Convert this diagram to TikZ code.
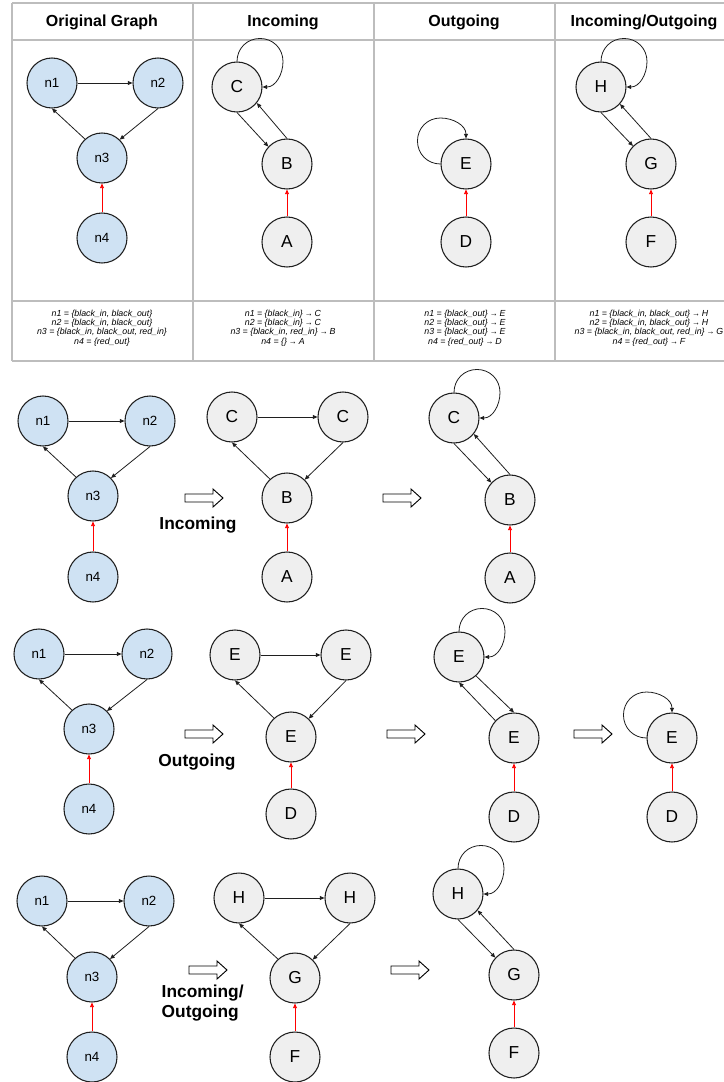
\documentclass[tikz,border=0pt]{standalone}
\usepackage{fontspec}
\setmainfont{Liberation Sans}
\usetikzlibrary{arrows.meta}
\definecolor{nblue}{HTML}{CFE2F3}
\definecolor{ngray}{HTML}{EFEFEF}
\definecolor{tlinec}{HTML}{BDBDBD}
\definecolor{nborder}{HTML}{1F1F1F}
\newcommand\tarr{\hspace{0.22em}\scalebox{0.9}[1]{→}\hspace{0.22em}}
\begin{document}
\begin{tikzpicture}[x=0.75pt,y=-0.75pt,
 bnode/.style={circle,draw=nborder,line width=0.8pt,fill=nblue,minimum size=37.5pt,inner sep=0pt,font=\fontsize{10}{12}\selectfont},
 gnode/.style={circle,draw=nborder,line width=0.8pt,fill=ngray,minimum size=37.5pt,inner sep=0pt,font=\fontsize{13}{15}\selectfont},
 arr/.style={draw=nborder,line width=0.6pt,-{Triangle[length=3.5pt,width=3pt]}},
 rarr/.style={draw=red,line width=0.7pt,-{Triangle[length=3.5pt,width=3pt]}},
 tbl/.style={draw=tlinec,line width=1.1pt},
 head/.style={font=\fontsize{12}{14}\selectfont\bfseries},
 info/.style={font=\fontsize{6.6}{6.9}\selectfont\itshape,align=center},
 oplabel/.style={font=\fontsize{13}{15.5}\selectfont\bfseries,align=left},
 harrow/.pic={\draw[line width=0.7pt,fill=white] (0,-4) -- (28,-4) -- (28,-9) -- (38,0) -- (28,9) -- (28,4) -- (0,4) -- cycle;}
]
\useasboundingbox (0,0) rectangle (724,1082);
% loop from top anchor to right anchor (clockwise, round)
\def\looptr#1{\draw[arr] (#1.90) .. controls +(0,-13) and +(-13,0) .. ++(23,-23) .. controls +(13,0) and +(0,-13) .. ++(23,23) .. controls +(0,13) and +(13,0) .. (#1.0);}
% loop from left anchor to top anchor
\def\looplt#1{\draw[arr] (#1.180) .. controls +(-13,0) and +(0,13) .. ++(-23,-23) .. controls +(0,-13) and +(-13,0) .. ++(23,-23) .. controls +(13,0) and +(0,-13) .. (#1.90);}

% ---------- table ----------
\foreach \yy in {3,40,301,361} \draw[tbl] (12,\yy) -- (724,\yy);
\foreach \xx in {12,193,374,555} \draw[tbl] (\xx,3) -- (\xx,361);

\node[head] (h1) at (102,22) {Original Graph};
\node[head] (h2) at (283,22) {Incoming};
\node[head] (h3) at (464,22) {Outgoing};
\node[head] (h4) at (644,22) {Incoming/Outgoing};

\node[info] (i1) at (102,328) {n1 = \{black\_in, black\_out\}\\n2 = \{black\_in, black\_out\}\\n3 = \{black\_in, black\_out, red\_in\}\\n4 = \{red\_out\}};
\node[info] (i2) at (283,328) {n1 = \{black\_in\}\tarr C\\n2 = \{black\_in\}\tarr C\\n3 = \{black\_in, red\_in\}\tarr B\\n4 = \{\}\tarr A};
\node[info] (i3) at (465,328) {n1 = \{black\_out\}\tarr E\\n2 = \{black\_out\}\tarr E\\n3 = \{black\_out\}\tarr E\\n4 = \{red\_out\}\tarr D};
\node[info] (i4) at (649,328) {n1 = \{black\_in, black\_out\}\tarr H\\n2 = \{black\_in, black\_out\}\tarr H\\n3 = \{black\_in, black\_out, red\_in\}\tarr G\\n4 = \{red\_out\}\tarr F};

% original graph in table
\node[bnode] (ta1) at (52,83) {n1};
\node[bnode] (ta2) at (158,83) {n2};
\node[bnode] (ta3) at (102,158) {n3};
\node[bnode] (ta4) at (102,238) {n4};
\draw[arr] (ta1) -- (ta2);
\draw[arr] (ta2.-90) -- (ta3.46);
\draw[arr] (ta3.132) -- (ta1.-90);
\draw[rarr] (ta4) -- (ta3);

% incoming in table
\node[gnode] (tbC) at (237,87) {C};
\node[gnode] (tbB) at (287,164) {B};
\node[gnode] (tbA) at (287,242) {A};
\draw[arr] (tbC.-90) -- (tbB.137);
\draw[arr] (tbB.90) -- (tbC.-39);
\looptr{tbC}
\draw[rarr] (tbA) -- (tbB);

% outgoing in table
\node[gnode] (tcE) at (466,164) {E};
\node[gnode] (tcD) at (466,242) {D};
\looplt{tcE}
\draw[rarr] (tcD) -- (tcE);

% incoming/outgoing in table
\node[gnode] (tdH) at (601,87) {H};
\node[gnode] (tdG) at (651,164) {G};
\node[gnode] (tdF) at (651,242) {F};
\draw[arr] (tdH.-90) -- (tdG.135);
\draw[arr] (tdG.90) -- (tdH.-42);
\looptr{tdH}
\draw[rarr] (tdF) -- (tdG);

% ---------- section 1: incoming ----------
\node[bnode] (pa1) at (43,421) {n1};
\node[bnode] (pa2) at (150,421) {n2};
\node[bnode] (pa3) at (93,496) {n3};
\node[bnode] (pa4) at (93,577) {n4};
\draw[arr] (pa1) -- (pa2);
\draw[arr] (pa2.-90) -- (pa3.45);
\draw[arr] (pa3.132) -- (pa1.-90);
\draw[rarr] (pa4) -- (pa3);

\pic at (185,498) {harrow};
\node[oplabel] (pl) at (198,525) {Incoming};

\node[gnode] (pb1) at (232,417) {C};
\node[gnode] (pb2) at (343,417) {C};
\node[gnode] (pb3) at (287,498) {B};
\node[gnode] (pb4) at (287,577) {A};
\draw[arr] (pb1) -- (pb2);
\draw[arr] (pb2.-90) -- (pb3.46);
\draw[arr] (pb3.132) -- (pb1.-90);
\draw[rarr] (pb4) -- (pb3);

\pic at (383,498) {harrow};

\node[gnode] (pcC) at (454,418) {C};
\node[gnode] (pcB) at (510,500) {B};
\node[gnode] (pcA) at (510,578) {A};
\draw[arr] (pcC.-90) -- (pcB.137);
\draw[arr] (pcB.90) -- (pcC.-39);
\looptr{pcC}
\draw[rarr] (pcA) -- (pcB);

% ---------- section 2: outgoing ----------
\node[bnode] (qa1) at (39,654) {n1};
\node[bnode] (qa2) at (147,654) {n2};
\node[bnode] (qa3) at (89,729) {n3};
\node[bnode] (qa4) at (89,809) {n4};
\draw[arr] (qa1) -- (qa2);
\draw[arr] (qa2.-90) -- (qa3.45);
\draw[arr] (qa3.132) -- (qa1.-90);
\draw[rarr] (qa4) -- (qa3);

\pic at (185,734) {harrow};
\node[oplabel] (ql) at (197,762) {Outgoing};

\node[gnode] (qb1) at (235,655) {E};
\node[gnode] (qb2) at (346,655) {E};
\node[gnode] (qb3) at (291,737) {E};
\node[gnode] (qb4) at (291,814) {D};
\draw[arr] (qb1) -- (qb2);
\draw[arr] (qb2.-90) -- (qb3.46);
\draw[arr] (qb3.132) -- (qb1.-90);
\draw[rarr] (qb4) -- (qb3);

\pic at (387,734) {harrow};

\node[gnode] (qcT) at (459,657) {E};
\node[gnode] (qcB) at (514,738) {E};
\node[gnode] (qcD) at (514,817) {D};
\draw[arr] (qcT.-48) -- (qcB.90);
\draw[arr] (qcB.137) -- (qcT.-90);
\looptr{qcT}
\draw[rarr] (qcD) -- (qcB);

\pic at (574,734) {harrow};

\node[gnode] (qdE) at (672,738) {E};
\node[gnode] (qdD) at (672,817) {D};
\looplt{qdE}
\draw[rarr] (qdD) -- (qdE);

% ---------- section 3: incoming/outgoing ----------
\node[bnode] (ra1) at (42,901) {n1};
\node[bnode] (ra2) at (149,901) {n2};
\node[bnode] (ra3) at (92,977) {n3};
\node[bnode] (ra4) at (92,1057) {n4};
\draw[arr] (ra1) -- (ra2);
\draw[arr] (ra2.-90) -- (ra3.45);
\draw[arr] (ra3.132) -- (ra1.-90);
\draw[rarr] (ra4) -- (ra3);

\pic at (189,970) {harrow};
\node[oplabel,anchor=west] (rl) at (157,1003) {Incoming/\\Outgoing};

\node[gnode] (rb1) at (239,898) {H};
\node[gnode] (rb2) at (350,898) {H};
\node[gnode] (rb3) at (295,978) {G};
\node[gnode] (rb4) at (295,1057) {F};
\draw[arr] (rb1) -- (rb2);
\draw[arr] (rb2.-90) -- (rb3.46);
\draw[arr] (rb3.132) -- (rb1.-90);
\draw[rarr] (rb4) -- (rb3);

\pic at (391,970) {harrow};

\node[gnode] (rcH) at (458,894) {H};
\node[gnode] (rcG) at (514,975) {G};
\node[gnode] (rcF) at (514,1053) {F};
\draw[arr] (rcH.-90) -- (rcG.137);
\draw[arr] (rcG.90) -- (rcH.-40);
\looptr{rcH}
\draw[rarr] (rcF) -- (rcG);
\end{tikzpicture}
\end{document}
